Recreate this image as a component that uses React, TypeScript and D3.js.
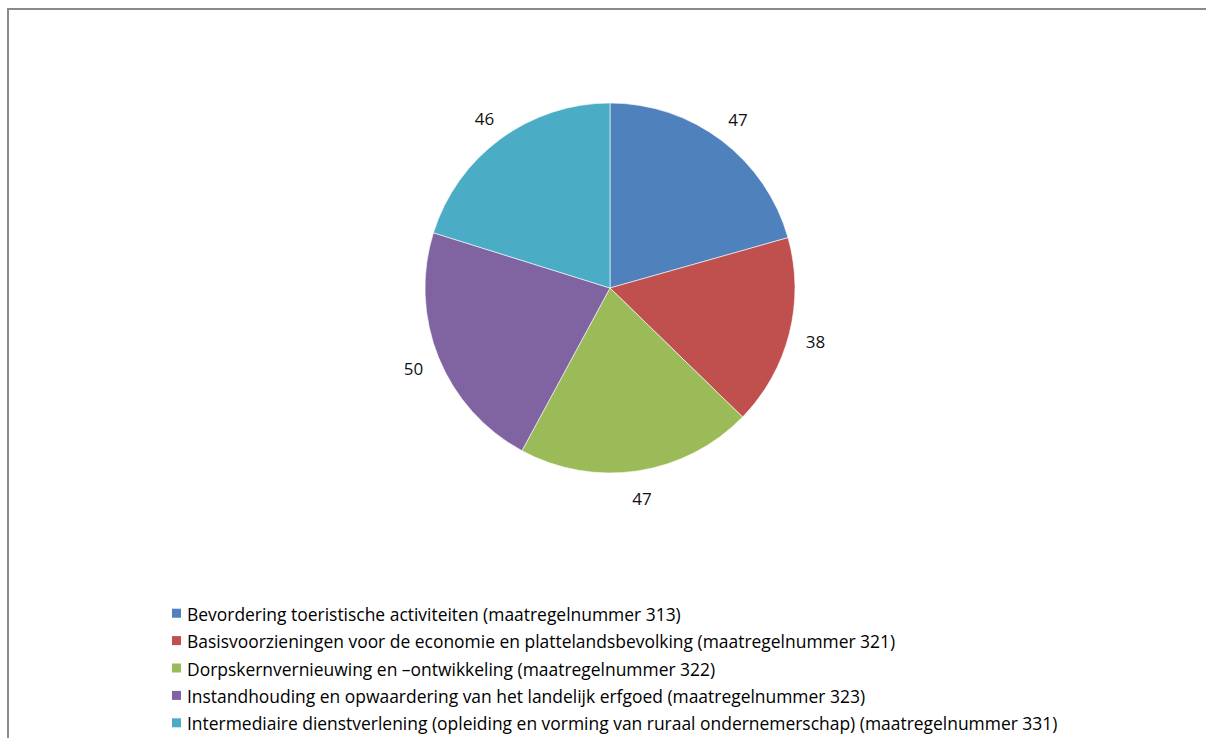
import React from "react";
import * as d3 from "d3";

const categories = [
  "Bevordering toeristische activiteiten (maatregelnummer 313)",
  "Basisvoorzieningen voor de economie en plattelandsbevolking (maatregelnummer 321)",
  "Dorpskernvernieuwing en \u2013ontwikkeling (maatregelnummer 322)",
  "Instandhouding en opwaardering van het landelijk erfgoed (maatregelnummer 323)",
  "Intermediaire dienstverlening (opleiding en vorming van ruraal ondernemerschap) (maatregelnummer 331)",
];
const values = [47, 38, 47, 50, 46];
const colors = ["#4F81BD", "#C0504D", "#9BBB59", "#8064A2", "#4BACC6"];

const W = 1206;
const H = 738;
const cx = 610;
const cy = 288;
const R = 185;
const labelR = 212;
const FONT = "'Open Sans', sans-serif";

export default function App() {
  const pie = d3.pie<number>().sort(null).value((d) => d)(values);
  const arc = d3.arc<d3.PieArcDatum<number>>().innerRadius(0).outerRadius(R);
  const labelArc = d3.arc<d3.PieArcDatum<number>>().innerRadius(labelR).outerRadius(labelR);
  const legendY = d3.scaleBand<number>().domain(d3.range(categories.length)).range([602, 739]);

  return (
    <svg
      width={W}
      height={H}
      style={{ position: "absolute", left: 0, top: 0 }}
      fontFamily={FONT}
    >
      <rect x={0} y={0} width={W} height={H} fill="#fff" />
      <rect x={8} y={9} width={W + 20} height={H + 20} fill="#fff" stroke="#8a8a8a" strokeWidth={2} />
      <g transform={`translate(${cx},${cy})`}>
        {pie.map((p, i) => (
          <path key={i} d={arc(p) || ""} fill={colors[i]} stroke="#fff" strokeWidth={0.6} />
        ))}
        {pie.map((p, i) => {
          const [x, y] = labelArc.centroid(p);
          return (
            <text
              key={"l" + i}
              x={x}
              y={y + 1}
              textAnchor="middle"
              dominantBaseline="central"
              fontSize={17}
              fill="#111"
            >
              {values[i]}
            </text>
          );
        })}
      </g>
      <g>
        {categories.map((c, i) => {
          const y = (legendY(i) || 0) + legendY.bandwidth() / 2 - 2;
          return (
            <g key={"g" + i}>
              <rect x={172} y={y - 5} width={9} height={9} fill={colors[i]} />
              <text x={187} y={y} dominantBaseline="central" fontSize={17.45} fill="#000">
                {c}
              </text>
            </g>
          );
        })}
      </g>
    </svg>
  );
}
